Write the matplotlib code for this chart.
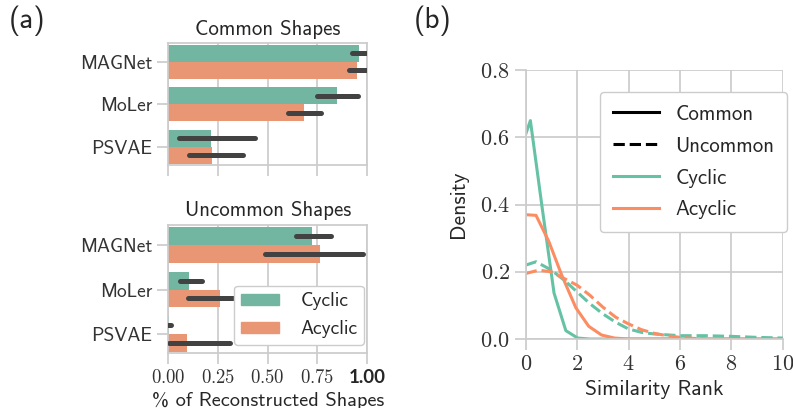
import numpy as np
import matplotlib
matplotlib.use("Agg")
import matplotlib.pyplot as plt
from matplotlib.patches import Patch
from matplotlib.lines import Line2D

# ---- data ----
models = ["MAGNet", "MoLer", "PSVAE"]

common_cyc = [0.958, 0.846, 0.216]
common_cyc_lo = [0.925, 0.749, 0.054]
common_cyc_hi = [0.995, 0.955, 0.439]
common_acy = [0.950, 0.682, 0.221]
common_acy_lo = [0.908, 0.601, 0.104]
common_acy_hi = [0.992, 0.766, 0.377]

uncommon_cyc = [0.724, 0.107, 0.004]
uncommon_cyc_lo = [0.645, 0.062, 0.0]
uncommon_cyc_hi = [0.816, 0.171, 0.015]
uncommon_acy = [0.762, 0.260, 0.095]
uncommon_acy_lo = [0.486, 0.101, 0.003]
uncommon_acy_hi = [0.980, 0.420, 0.313]

bar_ticks = [0.0, 0.25, 0.5, 0.75, 1.0]
bar_ticklabels = ["$0.00$", "$0.25$", "$0.50$", "$0.75$", "1.00"]

# density curves
cyc_common_x = [0, 0.18, 0.64, 1.10, 1.56, 2.02, 2.5, 3.0, 4.0, 6.0, 8.0, 10.0]
cyc_common_y = [0.61, 0.65, 0.39, 0.137, 0.025, 0.003, 0.0, 0.0, 0.0, 0.0, 0.0, 0.0]
acy_common_x = [0, 0.4, 0.9, 1.4, 1.95, 2.45, 2.95, 3.45, 4.0, 6.0, 8.0, 10.0]
acy_common_y = [0.37, 0.368, 0.29, 0.19, 0.093, 0.038, 0.012, 0.003, 0.0, 0.0, 0.0, 0.0]
cyc_uncommon_x = [0, 0.4, 1.0, 1.5, 2.0, 2.5, 3.0, 3.5, 4.0, 4.5, 5.0, 6.0, 7.0, 8.0, 9.0, 10.0]
cyc_uncommon_y = [0.22, 0.23, 0.205, 0.175, 0.14, 0.105, 0.075, 0.05, 0.03, 0.02, 0.015, 0.01, 0.01, 0.008, 0.005, 0.003]
acy_uncommon_x = [0, 0.5, 1.0, 1.5, 2.0, 2.5, 3.0, 3.5, 4.0, 4.5, 5.0, 5.5, 6.0, 6.5, 7.0]
acy_uncommon_y = [0.195, 0.205, 0.2, 0.18, 0.16, 0.13, 0.095, 0.065, 0.045, 0.028, 0.017, 0.01, 0.005, 0.002, 0.0]

rank_ticks = [0, 2, 4, 6, 8, 10]
rank_ticklabels = ["$0$", "$2$", "$4$", "$6$", "$8$", "$10$"]
dens_ticks = [0.0, 0.2, 0.4, 0.6, 0.8]
dens_ticklabels = ["$0.0$", "$0.2$", "$0.4$", "$0.6$", "$0.8$"]

# ---- style ----
plt.rcParams.update({
    "font.family": ["cmss10", "DejaVu Sans"],
    "mathtext.fontset": "cm",
    "axes.unicode_minus": False,
    "font.size": 14,
    "axes.edgecolor": "#cccccc",
    "axes.linewidth": 1.25,
    "grid.color": "#cccccc",
    "grid.linewidth": 1.25,
    "xtick.color": "#cccccc",
    "ytick.color": "#cccccc",
    "xtick.labelcolor": "#333333",
    "ytick.labelcolor": "#333333",
    "xtick.major.size": 8,
    "ytick.major.size": 8,
    "xtick.major.width": 1.25,
    "ytick.major.width": 1.25,
    "text.color": "#262626",
    "axes.labelcolor": "#262626",
})

C_BAR = "#72b6a1"
A_BAR = "#e99675"
C_LINE = "#66c2a5"
A_LINE = "#fc8d62"
ERR = "#424242"

fig = plt.figure(figsize=(7.93, 4.08), dpi=100)
ax1 = fig.add_axes([0.212, 0.596, 0.251, 0.299])
ax2 = fig.add_axes([0.212, 0.135, 0.251, 0.314])
ax3 = fig.add_axes([0.663, 0.169, 0.324, 0.659])


def bar_panel(ax, cyc, cyc_lo, cyc_hi, acy, acy_lo, acy_hi, title):
    y = np.arange(len(models))
    ax.barh(y - 0.2, cyc, height=0.4, color=C_BAR, zorder=2)
    ax.barh(y + 0.2, acy, height=0.4, color=A_BAR, zorder=2)
    for i in range(len(models)):
        ax.plot([cyc_lo[i], cyc_hi[i]], [y[i] - 0.2, y[i] - 0.2], color=ERR,
                lw=3.6, solid_capstyle="round", zorder=3)
        ax.plot([acy_lo[i], acy_hi[i]], [y[i] + 0.2, y[i] + 0.2], color=ERR,
                lw=3.6, solid_capstyle="round", zorder=3)
    ax.set_yticks(y)
    ax.set_yticklabels(models)
    ax.set_ylim(2.42, -0.45)
    ax.set_xlim(0, 1.0)
    ax.set_xticks(bar_ticks)
    ax.grid(True, axis="x", zorder=0)
    ax.set_axisbelow(True)
    ax.set_title(title, fontsize=15, pad=6)


bar_panel(ax1, common_cyc, common_cyc_lo, common_cyc_hi,
          common_acy, common_acy_lo, common_acy_hi, "Common Shapes")
ax1.set_xticklabels([])

bar_panel(ax2, uncommon_cyc, uncommon_cyc_lo, uncommon_cyc_hi,
          uncommon_acy, uncommon_acy_lo, uncommon_acy_hi, "Uncommon Shapes")
ax2.set_xticklabels(bar_ticklabels, fontsize=13.5)
last = ax2.get_xticklabels()[-1]
last.set_fontweight("bold")
last.set_family("Lato")
last.set_fontsize(13.5)
last.set_color("#262626")
ax2.set_xlabel("% of Reconstructed Shapes", labelpad=4, fontsize=14.6)
leg = ax2.legend(handles=[Patch(color=C_BAR, label="Cyclic"), Patch(color=A_BAR, label="Acyclic")],
                 loc="lower right", fontsize=14, framealpha=1, edgecolor="#cccccc",
                 handlelength=1.95, handleheight=0.5, handletextpad=1.1,
                 borderpad=0.35, borderaxespad=0.15, bbox_to_anchor=(1.0, 0.04))
leg.set_zorder(5)

# ---- right panel ----
ax3.plot(cyc_common_x, cyc_common_y, color=C_LINE, lw=2.2)
ax3.plot(acy_common_x, acy_common_y, color=A_LINE, lw=2.2)
ax3.plot(cyc_uncommon_x, cyc_uncommon_y, color=C_LINE, lw=2.2, ls="--")
ax3.plot(acy_uncommon_x, acy_uncommon_y, color=A_LINE, lw=2.2, ls="--")
ax3.set_xlim(0, 10)
ax3.set_ylim(0, 0.8)
ax3.set_xticks(rank_ticks)
ax3.set_xticklabels(rank_ticklabels, fontsize=16)
ax3.set_yticks(dens_ticks)
ax3.set_yticklabels(dens_ticklabels, fontsize=16)
ax3.grid(True)
for s in ["top", "right"]:
    ax3.spines[s].set_visible(False)
ax3.set_xlabel("Similarity Rank", labelpad=4, fontsize=15.5)
ax3.set_ylabel("Density", fontsize=15.5, labelpad=9)
handles = [Line2D([], [], color="black", lw=2.2, label="Common"),
           Line2D([], [], color="black", lw=2.2, ls="--", label="Uncommon"),
           Line2D([], [], color=C_LINE, lw=2.2, label="Cyclic"),
           Line2D([], [], color=A_LINE, lw=2.2, label="Acyclic")]
ax3.legend(handles=handles, loc="upper right", fontsize=15, framealpha=1,
           edgecolor="#cccccc", bbox_to_anchor=(1.016, 0.918), borderaxespad=0,
           handlelength=2.2, borderpad=0.6, labelspacing=0.62)

fig.text(0.034, 0.948, "(a)", fontsize=21, ha="center", va="center")
fig.text(0.546, 0.948, "(b)", fontsize=21, ha="center", va="center")

fig.savefig("out.png", dpi=100)
